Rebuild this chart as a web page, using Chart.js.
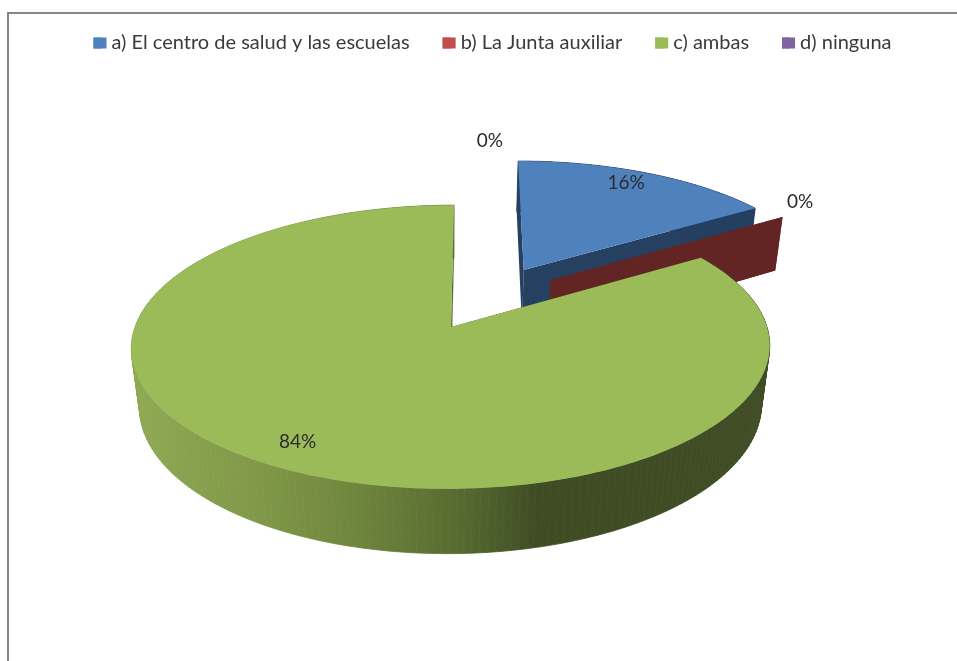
<!DOCTYPE html>
<html>
<head>
<meta charset="utf-8">
<title>Pie 3D</title>
<script src="https://cdn.jsdelivr.net/npm/chart.js@4"></script>
<style>
  body { margin: 0; background: #fff; }
  canvas { display: block; }
</style>
</head>
<body>
<canvas id="chart-area" width="957" height="661"></canvas>
<script>
// chart data
var categories = ['a) El centro de salud y las escuelas', 'b) La Junta auxiliar', 'c) ambas', 'd) ninguna'];
var values = [16, 0, 84, 0];
var percentLabels = ['16%', '0%', '84%', '0%'];

// slice colours
var topColors = ['#4F81BD', '#C0504D', '#9BBB59', '#8064A2'];
var wallColors = ['#254061', '#632523', '#3F4C24', null];

// exploded slices: distance and direction (deg from top), pie radius = 1
var explodeDist = [0.497, 0.483, 0, 0.497];
var explodeDir = [28.8, 42.6, 0, 0];
// where the percentage text sits, relative to the middle of its slice
var labelDist = [0.875, 1.147, 0.855, 1.16];
var labelTurn = [-1.9, -3.7, 1.1, 6.6];

////////////////////////////////////////////////////////////////////
//////////////// perspective of the tilted pie /////////////////////
////////////////////////////////////////////////////////////////////

var view = { cx: 451, cy: 327, rx: 316, ry: 139, tilt: -0.141, skew: -3.5 };

function project(u, v) {
    var w = 1 + view.tilt * v;
    return {
        x: view.cx + (view.rx * u + view.skew * v) / w,
        y: view.cy + view.ry * v / w
    };
}

// the bottom of the pie, walls converge a bit going down
function lower(p) {
    var vx = 450, vy = 2650;
    var t = 0.97 + (489 - p.y) * 0.0000294;
    return { x: vx + (p.x - vx) * t, y: vy + (p.y - vy) * t };
}

function ground(i, angle, r) {
    var dir = explodeDir[i] * Math.PI / 180;
    var d = explodeDist[i];
    return project(d * Math.sin(dir) + r * Math.sin(angle), -d * Math.cos(dir) - r * Math.cos(angle));
}

function fillPath(ctx, pts, color, seam) {
    ctx.beginPath();
    pts.forEach(function (p, n) {
        if (n === 0) ctx.moveTo(p.x, p.y);
        else ctx.lineTo(p.x, p.y);
    });
    ctx.closePath();
    ctx.fillStyle = color;
    ctx.fill();
    if (seam) {
        ctx.strokeStyle = color;
        ctx.lineWidth = 0.8;
        ctx.stroke();
    }
}

function greenWallGradient(ctx) {
    var g = ctx.createLinearGradient(131, 0, 768, 0);
    g.addColorStop(0, '#8FA953');
    g.addColorStop(0.2, '#809848');
    g.addColorStop(0.36, '#6E853D');
    g.addColorStop(0.52, '#566A30');
    g.addColorStop(0.64, '#3F4C24');
    g.addColorStop(1, '#3F4C24');
    return g;
}

var pie3d = {
    id: 'pie3d',
    beforeDraw: function (chart) {
        var ctx = chart.ctx;
        ctx.save();
        ctx.fillStyle = '#fff';
        ctx.fillRect(0, 0, chart.width, chart.height);
        ctx.strokeStyle = '#868686';
        ctx.lineWidth = 2;
        ctx.beginPath();
        ctx.moveTo(8, chart.height);
        ctx.lineTo(8, 13);
        ctx.lineTo(chart.width, 13);
        ctx.stroke();
        ctx.restore();
    },
    // the arcs are laid out by Chart.js, here they are painted tilted
    beforeDatasetDraw: function (chart) {
        var ctx = chart.ctx;
        var arcs = chart.getDatasetMeta(0).data;
        ctx.save();
        arcs.forEach(function (arc, i) {
            if (!wallColors[i]) return;
            var a0 = arc.startAngle + Math.PI / 2;
            var a1 = arc.endAngle + Math.PI / 2;
            var rim = [];
            var steps = 240;
            for (var s = 0; s <= steps; s++) {
                rim.push(ground(i, a0 + (a1 - a0) * s / steps, 1));
            }
            var apex = ground(i, 0, 0);
            var wall = i === 2 ? greenWallGradient(ctx) : wallColors[i];
            // cut faces
            fillPath(ctx, [apex, rim[0], lower(rim[0]), lower(apex)], wall);
            fillPath(ctx, [apex, rim[steps], lower(rim[steps]), lower(apex)], wall);
            // outer wall, strip by strip so the silhouette stays straight
            if (values[i] > 0) {
                for (var k = 0; k < steps; k++) {
                    fillPath(ctx, [rim[k], rim[k + 1], lower(rim[k + 1]), lower(rim[k])], wall, true);
                }
                fillPath(ctx, [apex].concat(rim), arc.options.backgroundColor);
            }
        });
        ctx.restore();
        return false;
    },
    afterDatasetsDraw: function (chart) {
        var ctx = chart.ctx;
        var arcs = chart.getDatasetMeta(0).data;
        ctx.save();
        ctx.font = '19px Lato';
        ctx.fillStyle = '#2b2b2b';
        ctx.textAlign = 'center';
        ctx.textBaseline = 'middle';
        arcs.forEach(function (arc, i) {
            var mid = (arc.startAngle + arc.endAngle) / 2 + Math.PI / 2;
            var p = ground(i, mid + labelTurn[i] * Math.PI / 180, labelDist[i]);
            ctx.fillText(percentLabels[i], p.x, p.y);
        });
        ctx.restore();
    },
    // legend boxes are set narrow to bring the text closer, widen them here
    afterDraw: function (chart) {
        var ctx = chart.ctx;
        var boxes = chart.legend.legendHitBoxes;
        ctx.save();
        boxes.forEach(function (box, i) {
            ctx.fillStyle = topColors[i];
            ctx.fillRect(box.left, box.top + (box.height - 11) / 2, 13, 11);
        });
        ctx.restore();
    }
};

var config = {
    type: 'pie',
    data: {
        labels: categories,
        datasets: [{
            data: values,
            backgroundColor: topColors,
            borderWidth: 0
        }]
    },
    options: {
        responsive: false,
        animation: false,
        events: [],
        layout: { padding: { left: 28 } },
        plugins: {
            tooltip: { enabled: false },
            legend: {
                position: 'top',
                labels: {
                    boxWidth: 8,
                    boxHeight: 11,
                    padding: 33,
                    color: '#3a3a3a',
                    font: { family: 'Lato', size: 20 }
                }
            }
        }
    },
    plugins: [pie3d]
};

var ctx = document.getElementById('chart-area').getContext('2d');
window.myPie = new Chart(ctx, config);
</script>
</body>
</html>
